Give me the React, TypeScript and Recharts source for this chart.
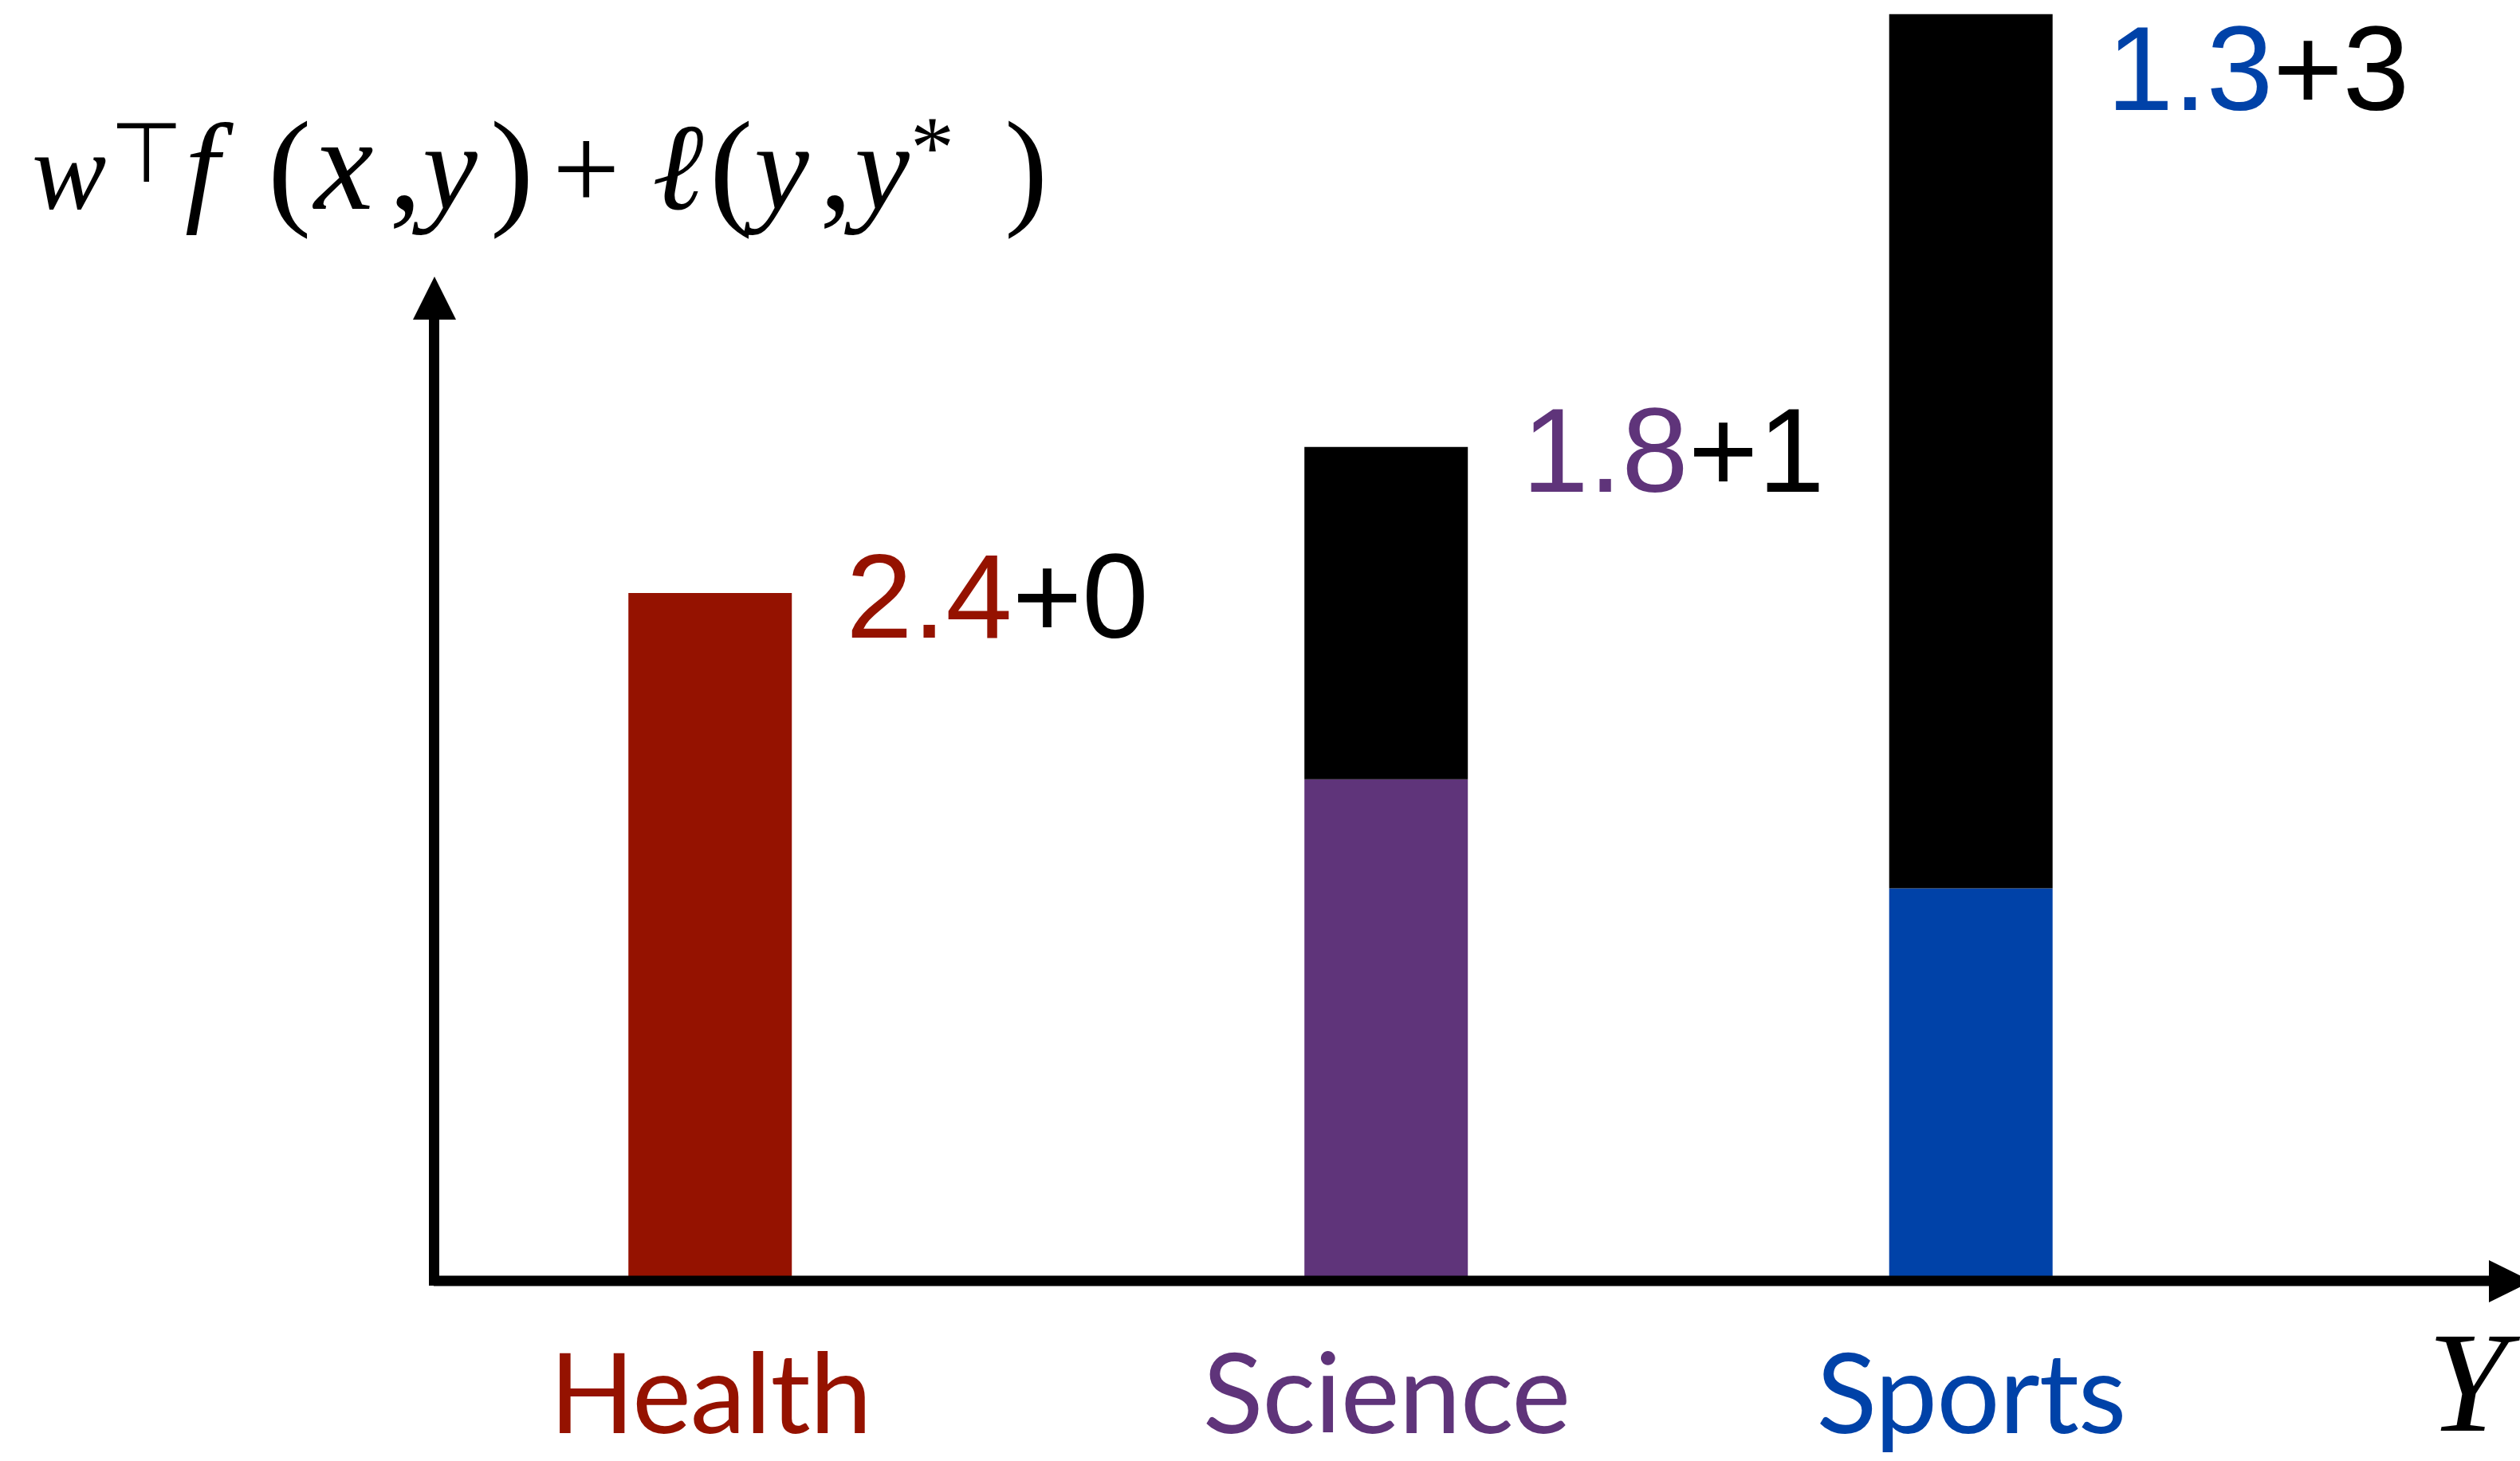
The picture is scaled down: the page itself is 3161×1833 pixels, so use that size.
import React from "react";
import { BarChart, Bar, XAxis, YAxis, Cell, LabelList } from "recharts";

// categories and where they sit along the horizontal axis
const categories = ["Health", "Science", "Sports"];
const positions = [1, 2, 2.865];
// score part (coloured) and loss part (black) of each bar
const scores = [2.4, 1.75, 1.37];
const losses = [0, 1.16, 3.05];
const scoreText = ["2.4", "1.8", "1.3"];
const lossText = ["+0", "+1", "+3"];
const colors = ["#951200", "#5F347A", "#0042A8"];

const chartData = categories.map((name, i) => ({
  name,
  pos: positions[i],
  score: scores[i],
  loss: losses[i],
  i,
}));

const W = 3161;
const H = 1833;

function CategoryTick({ x, y, payload }: any) {
  const idx = positions.indexOf(payload.value);
  if (idx < 0) return null;
  return (
    <text
      x={x}
      y={y}
      dy={191}
      textAnchor="middle"
      fill={colors[idx]}
      fontFamily="Lato, 'Open Sans', sans-serif"
      fontSize={140}
      letterSpacing={-1}
    >
      {categories[idx]}
    </text>
  );
}

// label sits next to the top of the whole stack
function makeLabel(onTopBar: boolean) {
  return function ValueLabel(props: any) {
    const { x, y, width, value } = props;
    const idx = Number(value);
    const hasLoss = losses[idx] > 0;
    if (hasLoss !== onTopBar) return null;
    const tx = x + width + 68;
    const ty = Math.max(y + 56, 138);
    return (
      <text
        x={tx}
        y={ty}
        fontFamily="'Liberation Sans', Arial, sans-serif"
        fontSize={150}
        letterSpacing={0}
      >
        <tspan fill={colors[idx]}>{scoreText[idx]}</tspan>
        <tspan fill="#000">{lossText[idx]}</tspan>
      </text>
    );
  };
}
const ScoreLabel = makeLabel(false);
const LossLabel = makeLabel(true);

function Overlay() {
  const serif = "'Liberation Serif', 'DejaVu Serif', serif";
  const it = { fontFamily: serif, fontStyle: "italic" as const, fontSize: 155 };
  const up = { fontFamily: serif, fontSize: 163 };
  return (
    <svg
      width={W}
      height={H}
      style={{ position: "absolute", left: 0, top: 0, pointerEvents: "none" }}
    >
      {/* vertical axis with arrow */}
      <rect x={538} y={398} width={13} height={1215} fill="#000" />
      <polygon points="545,347 518,401 572,401" fill="#000" />
      {/* arrow on horizontal axis */}
      <polygon points="3122,1581 3122,1634 3176,1607.5" fill="#000" />

      {/* w^T f(x,y) + l(y,y*) */}
      <text fill="#000">
        <tspan x={40} y={262} {...it} fontSize={140}>w</tspan>
        <tspan x={138} y={228} fontFamily="'DejaVu Sans', sans-serif" fontSize={105}>⊤</tspan>
        <tspan x={232} y={262} {...it}>f</tspan>
        <tspan x={336} y={265} {...up}>(</tspan>
        <tspan x={394} y={262} {...it} fontSize={168}>x</tspan>
        <tspan x={488} y={262} {...up}>,</tspan>
        <tspan x={530} y={262} {...it}>y</tspan>
        <tspan x={615} y={265} {...up}>)</tspan>
        <tspan x={693} y={262} fontFamily={serif} fontSize={150}>+</tspan>
        <tspan x={818} y={262} {...it}>ℓ</tspan>
        <tspan x={890} y={265} {...up}>(</tspan>
        <tspan x={946} y={262} {...it}>y</tspan>
        <tspan x={1028} y={262} {...up}>,</tspan>
        <tspan x={1072} y={262} {...it}>y</tspan>
        <tspan x={1142} y={222} fontFamily={serif} fontSize={110}>*</tspan>
        <tspan x={1260} y={265} {...up}>)</tspan>
      </text>

      <text x={3045} y={1795} fontFamily={serif} fontStyle="italic" fontSize={180} fill="#000">
        Y
      </text>
    </svg>
  );
}

export default function App() {
  return (
    <div
      style={{
        position: "fixed",
        left: 0,
        top: 0,
        width: W,
        height: H,
        background: "#fff",
        overflow: "hidden",
      }}
    >
      <BarChart
        width={W}
        height={H}
        data={chartData}
        margin={{ top: 7, right: 0, bottom: 0, left: 544 }}
      >
        <XAxis
          type="number"
          dataKey="pos"
          domain={[0.5908, 3.677]}
          allowDataOverflow
          ticks={positions}
          height={226}
          tickLine={false}
          tickSize={0}
          tickMargin={0}
          axisLine={{ stroke: "#000", strokeWidth: 13 }}
          tick={<CategoryTick />}
        />
        <YAxis hide width={0} domain={[0, 4.45]} allowDataOverflow />
        <Bar dataKey="score" stackId="a" barSize={205} isAnimationActive={false}>
          {chartData.map((d, i) => (
            <Cell key={d.name} fill={colors[i]} />
          ))}
          <LabelList dataKey="i" content={<ScoreLabel />} />
        </Bar>
        <Bar dataKey="loss" stackId="a" barSize={205} fill="#000" isAnimationActive={false}>
          <LabelList dataKey="i" content={<LossLabel />} />
        </Bar>
      </BarChart>
      <Overlay />
    </div>
  );
}
